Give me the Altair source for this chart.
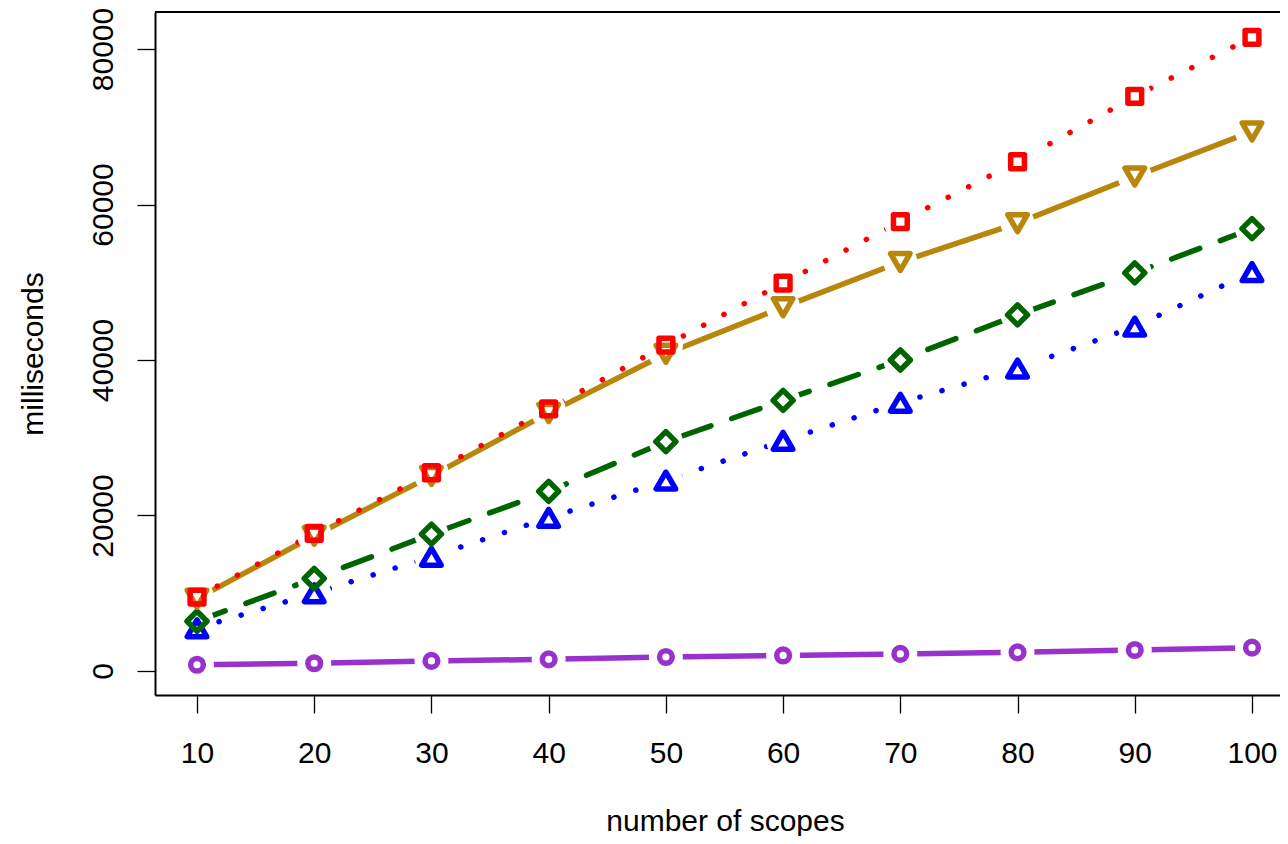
import altair as alt
import pandas as pd

# ---- data ----
scopes = [10, 20, 30, 40, 50, 60, 70, 80, 90, 100]
purple_ms = [800, 1000, 1300, 1500, 1800, 2000, 2200, 2400, 2700, 3000]
blue_ms = [5500, 10000, 14700, 19700, 24500, 29600, 34500, 38900, 44300, 51300]
green_ms = [6400, 11900, 17600, 23100, 29500, 34800, 40000, 45800, 51200, 56900]
gold_ms = [9300, 17400, 25100, 33200, 40800, 46800, 52600, 57600, 63600, 69400]
red_ms = [9500, 17700, 25500, 33700, 41900, 49900, 57800, 65500, 73900, 81500]

x_ticks = [10, 20, 30, 40, 50, 60, 70, 80, 90, 100]
y_ticks = [0, 20000, 40000, 60000, 80000]

series_names = ["purple", "blue", "green", "gold", "red"]
series_values = [purple_ms, blue_ms, green_ms, gold_ms, red_ms]
series_colors = ["#9932CC", "#0000FF", "#006400", "#B8860B", "#FF0000"]
series_shapes = ["circle", "triangle-up", "diamond", "triangle-down", "square"]
series_sizes = [161, 380, 400, 380, 190]
series_dash = [None, [0.1, 22.9], [30, 22], None, [0.1, 22.9]]

rows = []
for name, vals in zip(series_names, series_values):
    for s, v in zip(scopes, vals):
        rows.append({"series": name, "scopes": s, "ms": v})
df = pd.DataFrame(rows)

FONT = "Liberation Sans"
W, H = 1125, 683

x_scale = alt.Scale(domain=[6.417, 102.39], nice=False, zero=False)
y_scale = alt.Scale(domain=[-3087, 84759], nice=False, zero=False)

x_axis = alt.Axis(
    values=x_ticks, format="d", title="number of scopes", grid=False,
    domainColor="black", domainWidth=2, tickColor="black", tickWidth=1.3, tickSize=18,
    labelFont=FONT, labelFontSize=30, labelColor="black", labelBaseline="alphabetic",
    labelPadding=49, labelFlush=False, labelOverlap=False, labelBound=False,
    titleFont=FONT, titleFontSize=30, titleFontWeight="normal", titleColor="black",
    titleX=570, titleY=135, titleBaseline="alphabetic", titleAlign="center",
)
y_axis = alt.Axis(
    values=y_ticks, format="d", title="milliseconds", grid=False,
    domainColor="black", domainWidth=2, tickColor="black", tickWidth=1.3, tickSize=18,
    labelFont=FONT, labelFontSize=30, labelColor="black", labelAngle=270,
    labelAlign="center", labelBaseline="alphabetic", labelPadding=25,
    labelFlush=False, labelOverlap=False, labelBound=False,
    titleFont=FONT, titleFontSize=30, titleFontWeight="normal", titleColor="black",
    titleAngle=270, titleX=-113, titleY=341.5, titleBaseline="alphabetic", titleAlign="center",
)

X = alt.X("scopes:Q", scale=x_scale, axis=x_axis)
Y = alt.Y("ms:Q", scale=y_scale, axis=y_axis)

layers = []
for name, color, dash in zip(series_names, series_colors, series_dash):
    kw = dict(color=color, strokeWidth=5.5, strokeCap="round", strokeJoin="round")
    if dash is not None:
        kw["strokeDash"] = dash
    layers.append(
        alt.Chart(df).transform_filter(alt.datum.series == name).mark_line(**kw).encode(x=X, y=Y)
    )

# white halos give the type="b" gaps around the markers
halo = alt.Chart(df).mark_point(shape="circle", filled=True, opacity=1).encode(
    x=X, y=Y,
    color=alt.value("#ffffff"),
    size=alt.value(1156),
)
layers.append(halo)

points = alt.Chart(df).mark_point(filled=False, strokeWidth=5.5, opacity=1, strokeJoin="round").encode(
    x=X, y=Y,
    color=alt.Color("series:N", scale=alt.Scale(domain=series_names, range=series_colors), legend=None),
    shape=alt.Shape("series:N", scale=alt.Scale(domain=series_names, range=series_shapes), legend=None),
    size=alt.Size("series:N", scale=alt.Scale(type="ordinal", domain=series_names, range=series_sizes), legend=None),
)
layers.append(points)

top_frame = alt.Chart(pd.DataFrame({"a": [0]})).mark_rule(color="black", strokeWidth=2).encode(
    x=alt.value(0), x2=alt.value(W), y=alt.value(0)
)
layers.append(top_frame)

chart = alt.layer(*layers).properties(
    width=W, height=H,
    autosize=alt.AutoSizeParams(type="none"),
    padding={"left": 147, "top": 4, "right": 0, "bottom": 141},
).configure_view(stroke=None)

chart.save("out.html", embed_options={"renderer": "svg", "actions": False})
